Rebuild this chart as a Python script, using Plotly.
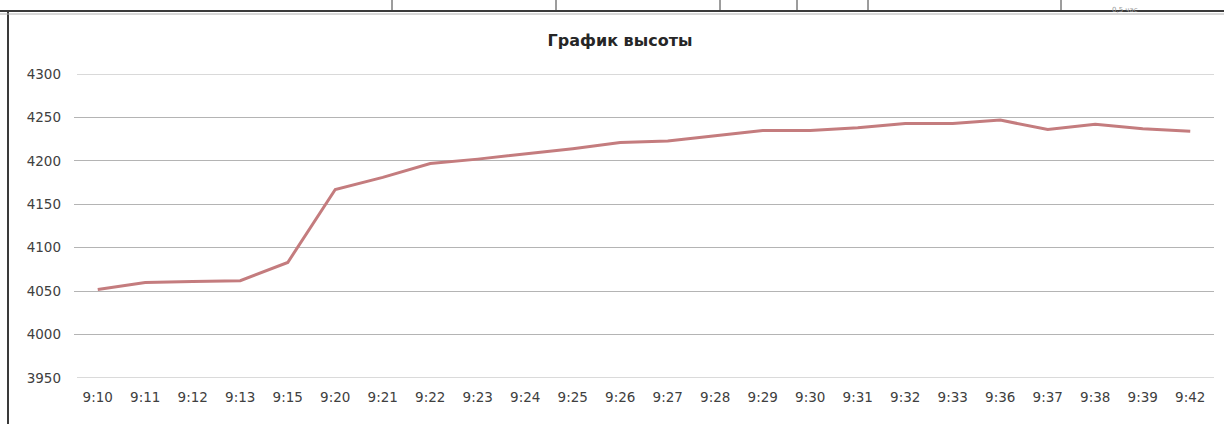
import plotly.graph_objects as go

times = ["9:10", "9:11", "9:12", "9:13", "9:15", "9:20", "9:21", "9:22", "9:23", "9:24",
         "9:25", "9:26", "9:27", "9:28", "9:29", "9:30", "9:31", "9:32", "9:33", "9:36",
         "9:37", "9:38", "9:39", "9:42"]
heights = [4052, 4060, 4061, 4062, 4083, 4167, 4181, 4197, 4202, 4208,
           4214, 4221, 4223, 4229, 4235, 4235, 4238, 4243, 4243, 4247,
           4236, 4242, 4237, 4234]
title = "График высоты"
y_ticks = [3950, 4000, 4050, 4100, 4150, 4200, 4250, 4300]

W, H = 1224, 424
L, R, T, B = 74, 10, 74, 46
PW, PH = W - L - R, H - T - B


def px(x):
    return (x - L) / PW


def py(y):
    return 1 - (y - T) / PH


fig = go.Figure()
fig.add_trace(go.Scatter(x=times, y=heights, mode="lines",
                         line=dict(color="#C47C7E", width=3), showlegend=False))

shapes = []
# gridlines at the range edges (plotly omits those)
for yv in (y_ticks[0], y_ticks[-1]):
    shapes.append(dict(type="line", xref="paper", yref="y", x0=px(77), x1=1, y0=yv, y1=yv,
                       layer="below", line=dict(color="#B4B4B4", width=1)))
# frame: left border and top border of the chart object
shapes.append(dict(type="line", xref="paper", yref="paper", x0=px(8), x1=px(8),
                   y0=py(10), y1=py(424), line=dict(color="#3a3a3a", width=2)))
shapes.append(dict(type="line", xref="paper", yref="paper", x0=px(0), x1=px(1224),
                   y0=py(11), y1=py(11), line=dict(color="#3a3a3a", width=2)))
shapes.append(dict(type="line", xref="paper", yref="paper", x0=px(0), x1=px(1224),
                   y0=py(14), y1=py(14), line=dict(color="#b0b0b0", width=1)))
for cx in [392, 556, 720, 797, 868, 1061]:
    shapes.append(dict(type="line", xref="paper", yref="paper", x0=px(cx), x1=px(cx),
                       y0=py(0), y1=py(11), line=dict(color="#3a3a3a", width=1)))

fig.update_layout(
    width=W, height=H,
    margin=dict(l=L, r=R, t=T, b=B),
    paper_bgcolor="white", plot_bgcolor="white",
    title=dict(text="<b>" + title + "</b>", x=px(620), xref="paper", xanchor="center",
               y=1 - 40 / H, yanchor="middle",
               font=dict(family="DejaVu Sans", size=16, color="#262626")),
    shapes=shapes,
    font=dict(family="DejaVu Sans", size=13, color="#404040"),
    xaxis=dict(type="category", showgrid=False, showline=False, ticks="",
               tickfont=dict(size=13.5, color="#404040"), range=[-0.5, len(times) - 0.5],
               ticklabelstandoff=9),
    yaxis=dict(range=[3950, 4300], tickvals=y_ticks, showgrid=True, gridcolor="#B4B4B4",
               gridwidth=1, showline=False, zeroline=False, ticks="",
               tickfont=dict(size=13.5, color="#404040"), ticklabelstandoff=12),
    annotations=[dict(text="0,5 час", xref="paper", yref="paper", x=px(1140), y=py(4),
                      showarrow=False, font=dict(size=7, color="#999"))],
)
fig.write_html("out.html", config={"displayModeBar": False},
               post_script="document.body.style.margin='0';")
